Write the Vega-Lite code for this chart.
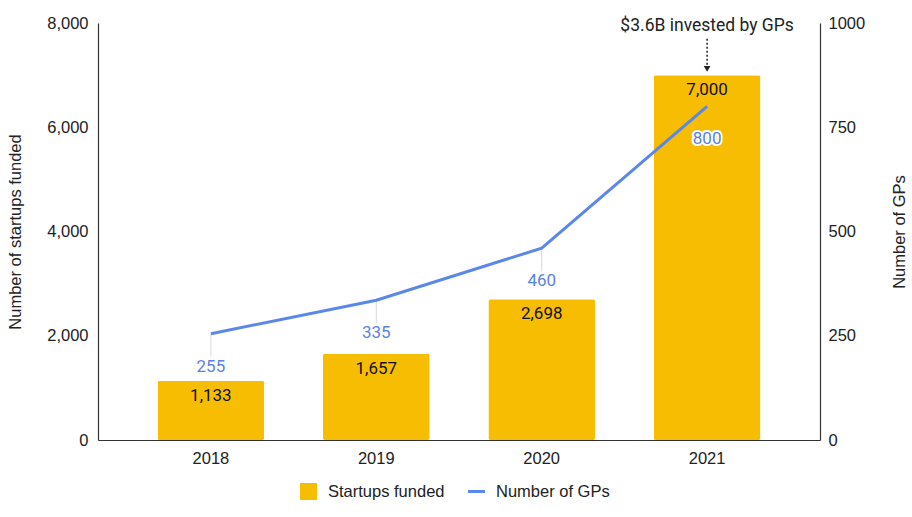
{
  "$schema": "https://vega.github.io/schema/vega-lite/v6.json",
  "autosize": {"type": "none"},
  "width": 722,
  "height": 417,
  "padding": {"left": 98, "top": 23, "right": 92, "bottom": 77},
  "background": "white",
  "config": {
    "view": {"stroke": null},
    "font": "Liberation Sans",
    "axis": {"labelFont": "Liberation Sans", "titleFont": "Liberation Sans", "labelFontSize": 16.5, "titleFontSize": 16.5, "titleFontWeight": "normal", "labelColor": "#222", "titleColor": "#222", "domainColor": "#333", "domainWidth": 1.2, "ticks": false, "grid": false}
  },
  "data": {
    "values": [
      {"year": "2018", "startups": 1133, "gps": 255},
      {"year": "2019", "startups": 1657, "gps": 335},
      {"year": "2020", "startups": 2698, "gps": 460},
      {"year": "2021", "startups": 7000, "gps": 800}
    ]
  },
  "encoding": {
    "x": {
      "field": "year", "type": "ordinal",
      "scale": {"paddingInner": 0.355, "paddingOuter": 0.36},
      "axis": {"title": null, "labelAngle": 0, "labelPadding": 10, "domainColor": "#333"}
    }
  },
  "layer": [
    {
      "layer": [
        {
          "mark": {"type": "bar", "cornerRadius": 2, "color": "#F6BD02"},
          "encoding": {
            "y": {"field": "startups", "type": "quantitative", "scale": {"domain": [0, 8000]},
              "axis": {"title": "Number of startups funded", "values": [0, 2000, 4000, 6000, 8000], "format": ",d", "labelPadding": 10, "titlePadding": 23, "orient": "left"}},
            "color": {"datum": "Startups funded", "type": "nominal",
              "scale": {"domain": ["Startups funded", "Number of GPs"], "range": ["#F6BD02", "#5B87EA"]},
              "legend": {"title": null, "orient": "none", "legendX": 202, "legendY": 460, "direction": "horizontal", "padding": 0,
                "labelFont": "Liberation Sans", "labelFontSize": 16.5, "labelColor": "#222", "symbolSize": 289, "columnPadding": 23, "labelOffset": 11, "symbolStrokeWidth": 0,
                "encode": {"symbols": {"update": {"shape": {"signal": "datum.value === 'Number of GPs' ? 'M-1,-0.18H1V0.18H-1Z' : 'square'"}}}}}}
          }
        },
        {
          "mark": {"type": "text", "font": "Roboto", "fontSize": 17, "color": "#111", "baseline": "middle", "dy": 15},
          "encoding": {
            "y": {"field": "startups", "type": "quantitative"},
            "text": {"field": "startups", "type": "quantitative", "format": ",d"}
          }
        },
        {
          "data": {"values": [{"year": "2021", "label": "$3.6B invested by GPs", "top": 7700, "bottom": 7180, "tip": 7120}]},
          "layer": [
            {
              "mark": {"type": "text", "font": "Roboto", "fontSize": 17.5, "color": "#222", "baseline": "middle"},
              "encoding": {"y": {"datum": 7940}, "text": {"field": "label"}}
            },
            {
              "mark": {"type": "rule", "strokeDash": [2, 2], "strokeWidth": 1.5, "color": "#222"},
              "encoding": {"y": {"field": "top", "type": "quantitative"}, "y2": {"field": "bottom"}}
            },
            {
              "mark": {"type": "point", "shape": "triangle-down", "filled": true, "color": "#222", "size": 45, "opacity": 1},
              "encoding": {"y": {"field": "tip", "type": "quantitative"}}
            }
          ]
        }
      ]
    },
    {
      "layer": [
        {
          "transform": [{"filter": "datum.year !== '2021'"}],
          "mark": {"type": "rule", "color": "#d8d8d8", "strokeWidth": 1, "y2Offset": 23},
          "encoding": {
            "y": {"field": "gps", "type": "quantitative"},
            "y2": {"field": "gps"}
          }
        },
        {
          "mark": {"type": "line", "strokeWidth": 3},
          "encoding": {
            "y": {"field": "gps", "type": "quantitative", "scale": {"domain": [0, 1000]},
              "axis": {"title": "Number of GPs", "orient": "right", "values": [0, 250, 500, 750, 1000], "format": "d", "labelPadding": 8, "titlePadding": 43, "titleAngle": -90}},
            "color": {"datum": "Number of GPs", "type": "nominal"}
          }
        },
        {
          "mark": {"type": "text", "font": "Roboto", "fontSize": 17, "color": "white", "stroke": "white", "strokeWidth": 4, "strokeJoin": "round", "baseline": "middle", "dy": 33},
          "encoding": {
            "y": {"field": "gps", "type": "quantitative"},
            "text": {"field": "gps", "type": "quantitative"}
          }
        },
        {
          "mark": {"type": "text", "font": "Roboto", "fontSize": 17, "color": "#5A82E0", "baseline": "middle", "dy": 33},
          "encoding": {
            "y": {"field": "gps", "type": "quantitative"},
            "text": {"field": "gps", "type": "quantitative"}
          }
        }
      ]
    }
  ],
  "resolve": {"scale": {"y": "independent"}}
}
